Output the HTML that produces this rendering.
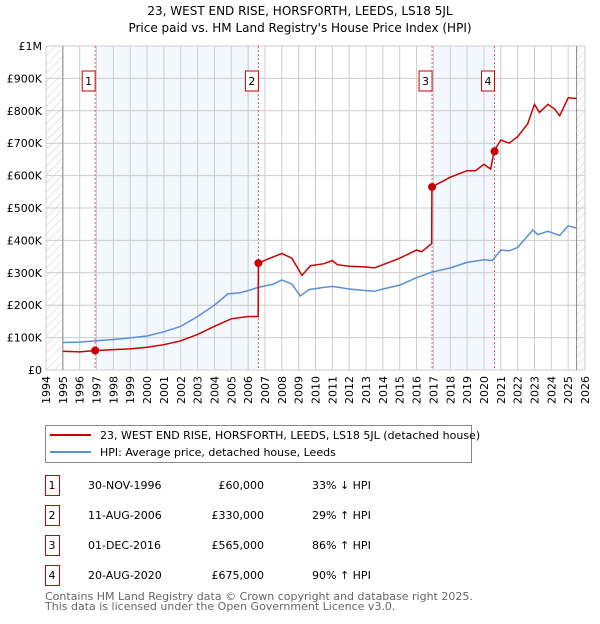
<!DOCTYPE html>
<html><head><meta charset="utf-8"><style>
body{margin:0;background:#fff;font-family:"DejaVu Sans","Liberation Sans",sans-serif;}
svg text{font-family:"DejaVu Sans","Liberation Sans",sans-serif;}
</style></head><body>
<svg id="c" width="600" height="620" xmlns="http://www.w3.org/2000/svg">
<defs><pattern id="hatch" width="6" height="6" patternUnits="userSpaceOnUse" patternTransform="rotate(45)"><line x1="0" y1="0" x2="0" y2="6" stroke="#ccc" stroke-width="1"/></pattern></defs>
<text x="300" y="15" text-anchor="middle" font-size="12">23, WEST END RISE, HORSFORTH, LEEDS, LS18 5JL</text>
<text x="300" y="32" text-anchor="middle" font-size="12">Price paid vs. HM Land Registry's House Price Index (HPI)</text>
<g id="plot"></g>
<g>
<rect x="45.5" y="425.5" width="426" height="37" fill="#fff" stroke="#888"/>
<line x1="50" y1="435" x2="91" y2="435" stroke="#cc0000" stroke-width="2"/>
<text x="100" y="439" font-size="11">23, WEST END RISE, HORSFORTH, LEEDS, LS18 5JL (detached house)</text>
<line x1="50" y1="452" x2="91" y2="452" stroke="#5b8fd4" stroke-width="2"/>
<text x="100" y="456" font-size="11">HPI: Average price, detached house, Leeds</text>
</g>
<g id="table" font-size="11"></g>
<text x="45" y="600" font-size="11" fill="#666">Contains HM Land Registry data © Crown copyright and database right 2025.</text>
<text x="45" y="610" font-size="11" fill="#666">This data is licensed under the Open Government Licence v3.0.</text>
</svg>
<script>
const hpiYears=[1995,1996,1997,1998,1999,2000,2001,2002,2003,2004,2004.8,2005.5,2006,2006.6,2007.5,2008,2008.6,2009.1,2009.6,2010.5,2011,2012,2013,2013.5,2014,2015,2016,2016.9,2018,2019,2020,2020.5,2021,2021.5,2022,2022.9,2023.2,2023.8,2024.5,2025,2025.5];
const hpiValues=[85,86,90,94,99,105,118,135,165,200,235,238,245,255,265,278,265,228,248,255,258,250,245,243,250,262,285,302,315,332,340,338,370,368,378,432,418,428,415,445,438];
const propYears=[1995,1996,1996.9,1998,1999,2000,2001,2002,2003,2004,2005,2006,2006.6,2006.61,2007.3,2008,2008.6,2009.2,2009.7,2010.5,2011,2011.3,2012,2013,2013.5,2014,2015,2016,2016.3,2016.9,2016.91,2018,2019,2019.5,2020,2020.4,2020.6,2021,2021.5,2022,2022.6,2023,2023.3,2023.8,2024.2,2024.5,2025,2025.5];
const propValues=[58,56,60,63,65,70,78,90,110,135,158,165,165,330,345,360,345,292,322,328,338,325,320,318,315,325,345,370,365,390,565,595,615,615,635,620,675,710,700,720,760,820,795,820,805,785,840,838];
const saleLabels=["1","2","3","4"];
const saleYears=[1996.92,2006.61,2016.92,2020.63];
const saleValues=[60,330,565,675];
const saleDates=["30-NOV-1996","11-AUG-2006","01-DEC-2016","20-AUG-2020"];
const salePrices=["£60,000","£330,000","£565,000","£675,000"];
const saleHpi=["33% ↓ HPI","29% ↑ HPI","86% ↑ HPI","90% ↑ HPI"];
const yTicks=[0,100,200,300,400,500,600,700,800,900,1000];
const yTickLabels=["£0","£100K","£200K","£300K","£400K","£500K","£600K","£700K","£800K","£900K","£1M"];
const xMin=1994,xMax=2026,L=46,R=585,T=46,B=370;
const X=y=>L+(y-xMin)/(xMax-xMin)*(R-L);
const Y=v=>B-v/1000*(B-T);
const NS="http://www.w3.org/2000/svg";
const g=document.getElementById('plot');
function mk(tag,attrs,parent){const e=document.createElementNS(NS,tag);for(const k in attrs)e.setAttribute(k,attrs[k]);(parent||g).appendChild(e);return e;}
// shading
for(const [a,b] of [[0,1],[2,3]]){const r=mk('rect',{x:X(saleYears[a]),y:T,width:X(saleYears[b])-X(saleYears[a]),height:B-T,fill:'#eef3fd',opacity:0.7});

}
const h1=mk('rect',{x:L,y:T,width:X(1995)-L,height:B-T,fill:'url(#hatch)'});


const h2=mk('rect',{x:X(2025.5),y:T,width:R-X(2025.5),height:B-T,fill:'url(#hatch)'});


// grid
for(let i=0;i<yTicks.length;i++){const v=yTicks[i];
const l=mk('line',{x1:L,x2:R,y1:Y(v),y2:Y(v),stroke:'#ccc'});


const t=mk('text',{x:L-4,y:Y(v)+4,'text-anchor':'end','font-size':11});t.textContent=yTickLabels[i];

}
for(let y=xMin;y<=xMax;y++){
const l=mk('line',{x1:X(y),x2:X(y),y1:T,y2:B,stroke:'#ccc'});


const t=mk('text',{x:0,y:0,'text-anchor':'end','font-size':11,transform:`translate(${X(y)+4},${B+6}) rotate(-90)`});t.textContent=y;

}
mk('line',{x1:X(1995),x2:X(1995),y1:T,y2:B,stroke:'#888'});
mk('line',{x1:X(2025.5),x2:X(2025.5),y1:T,y2:B,stroke:'#888'});
// sale markers lines
for(let i=0;i<saleYears.length;i++){
const l=mk('line',{x1:X(saleYears[i]),x2:X(saleYears[i]),y1:T,y2:B,stroke:'#e06060','stroke-dasharray':'2,2'});


const bx=X(saleYears[i])-13;
const r=mk('rect',{x:bx,y:71,width:13,height:20,fill:'#fff',stroke:'#cc0000'});


const t=mk('text',{x:bx+6.5,y:85,'text-anchor':'middle','font-size':11});t.textContent=saleLabels[i];

}
const pts=(xs,vs)=>xs.map((x,i)=>X(x).toFixed(1)+','+Y(vs[i]).toFixed(1)).join(' ');
const hp=mk('polyline',{points:pts(hpiYears,hpiValues),fill:'none',stroke:'#5b8fd4','stroke-width':1.5});


const pp=mk('polyline',{points:pts(propYears,propValues),fill:'none',stroke:'#cc0000','stroke-width':1.5});


for(let i=0;i<saleYears.length;i++){const c=mk('circle',{cx:X(saleYears[i]),cy:Y(saleValues[i]),r:4,fill:'#cc0000'});

}
// table
const tb=document.getElementById('table');
for(let i=0;i<4;i++){const y=489+i*30;
const r=mk('rect',{x:45.5,y:y-13.5,width:14,height:20,fill:'#fff',stroke:'#cc0000'},tb);


const cells=[[52,saleLabels[i],'middle'],[88,saleDates[i],'start'],[264,salePrices[i],'end'],[312,saleHpi[i],'start']];
for(const [x,s,a] of cells){const t=mk('text',{x:x,y:y,'text-anchor':a},tb);t.textContent=s;

}}
</script>
</body></html>
